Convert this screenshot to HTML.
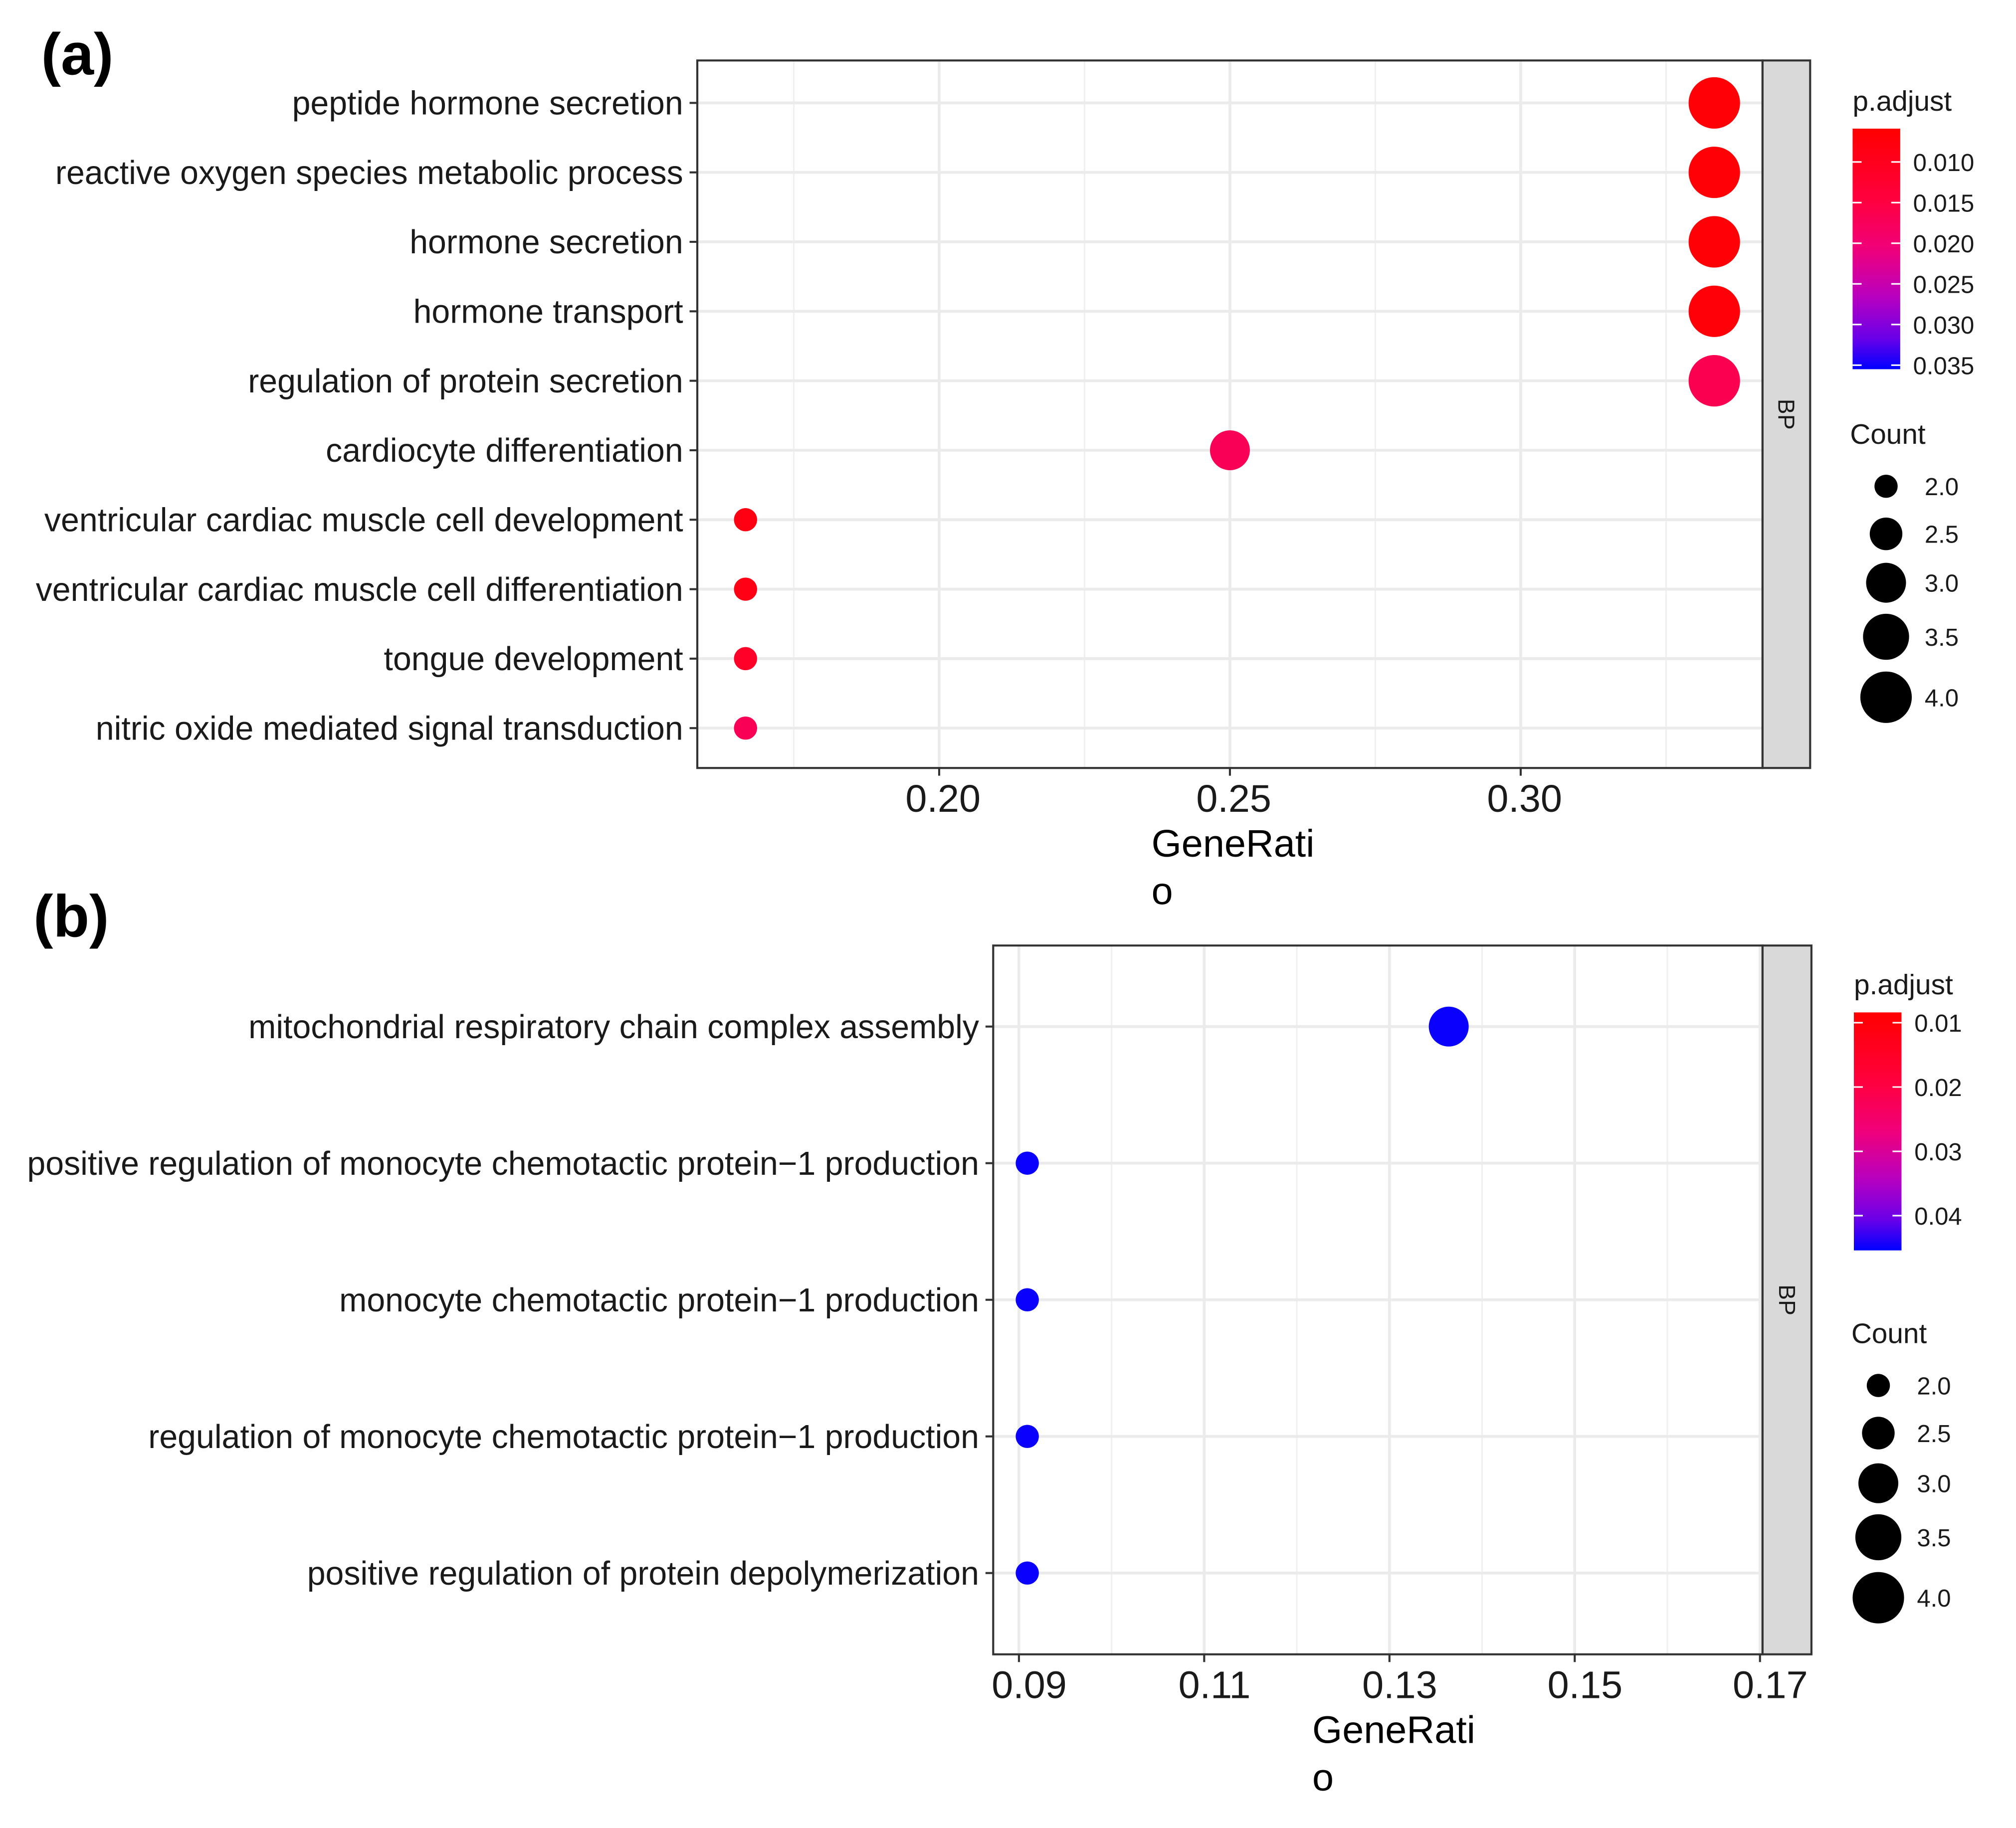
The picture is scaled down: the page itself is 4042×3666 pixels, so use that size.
<!DOCTYPE html>
<html><head><meta charset="utf-8">
<style>
html,body{margin:0;padding:0;background:#fff;}
svg{display:block;}
text{font-family:"Liberation Sans",Arial,sans-serif;}
</style></head>
<body>
<svg id="fig" width="4042" height="3666" viewBox="0 0 1567 1421" preserveAspectRatio="none" xmlns="http://www.w3.org/2000/svg">
<defs>
<linearGradient id="gradA" x1="0" y1="0" x2="0" y2="1">
<stop offset="0" stop-color="#ff0000"/><stop offset="0.3" stop-color="#ff0040"/><stop offset="0.5" stop-color="#f0007a"/><stop offset="0.7" stop-color="#b800c0"/><stop offset="0.87" stop-color="#6a00e8"/><stop offset="1" stop-color="#0000ff"/>
</linearGradient>
</defs>
<g id="root"></g>
</svg>
<script>
// ---------- Panel (a) data ----------
const catsA = ["peptide hormone secretion","reactive oxygen species metabolic process","hormone secretion","hormone transport","regulation of protein secretion","cardiocyte differentiation","ventricular cardiac muscle cell development","ventricular cardiac muscle cell differentiation","tongue development","nitric oxide mediated signal transduction"];
const ratioA = [0.3333,0.3333,0.3333,0.3333,0.3333,0.25,0.1667,0.1667,0.1667,0.1667];
const padjA = [0.0068,0.0068,0.0068,0.0070,0.0165,0.0170,0.0085,0.0088,0.0115,0.0170];
const countA = [4,4,4,4,4,3,2,2,2,2];
const ticksA = [0.20,0.25,0.30];
const tickLabelsA = ["0.20","0.25","0.30"];
const cbTicksA = [0.010,0.015,0.020,0.025,0.030,0.035];
const cbLabelsA = ["0.010","0.015","0.020","0.025","0.030","0.035"];
// ---------- Panel (b) data ----------
const catsB = ["mitochondrial respiratory chain complex assembly","positive regulation of monocyte chemotactic protein\u22121 production","monocyte chemotactic protein\u22121 production","regulation of monocyte chemotactic protein\u22121 production","positive regulation of protein depolymerization"];
const ratioB = [0.1364,0.0909,0.0909,0.0909,0.0909];
const padjB = [0.0450,0.0450,0.0450,0.0450,0.0450];
const countB = [3,2,2,2,2];
const ticksB = [0.09,0.11,0.13,0.15,0.17];
const tickLabelsB = ["0.09","0.11","0.13","0.15","0.17"];
const cbTicksB = [0.01,0.02,0.03,0.04];
const cbLabelsB = ["0.01","0.02","0.03","0.04"];
const sizeLegend = [2.0,2.5,3.0,3.5,4.0];
const sizeLegendLabels = ["2.0","2.5","3.0","3.5","4.0"];

const NS="http://www.w3.org/2000/svg";
const root=document.getElementById('root');
function el(tag,attrs,parent){const e=document.createElementNS(NS,tag);for(const k in attrs)e.setAttribute(k,attrs[k]);(parent||root).appendChild(e);return e;}
function txt(s,attrs,parent){const e=el('text',attrs,parent);e.textContent=s;return e;}
const stops=[[0,[255,0,0]],[0.3,[255,0,64]],[0.5,[240,0,122]],[0.7,[184,0,192]],[0.87,[106,0,232]],[1,[0,0,255]]];
function colorAt(t){t=Math.max(0,Math.min(1,t));for(let i=1;i<stops.length;i++){if(t<=stops[i][0]){const a=stops[i-1],b=stops[i];const f=(t-a[0])/(b[0]-a[0]);const c=a[1].map((v,j)=>Math.round(v+(b[1][j]-v)*f));return `rgb(${c[0]},${c[1]},${c[2]})`;}}return 'rgb(0,0,255)';}
function radius(c){return Math.sqrt(81+159.5*(c-2));}
const labelEls=[];

function panel(cfg){
  const g=el('g',{});
  
  
  const {L,R,T,B,x0,xv0,pxPer}=cfg;
  const xs=v=>x0+(v-xv0)*pxPer;
  const n=cfg.cats.length;
  const ys=i=>cfg.yTop+i*cfg.yStep;
  const minor=el('g',{},g);
  for(let i=0;i<cfg.ticks.length+1;i++){const v=cfg.ticks[0]+(i-0.5)*(cfg.ticks[1]-cfg.ticks[0]);const x=xs(v);if(x>L&&x<R)el('line',{x1:x,x2:x,y1:T,y2:B,stroke:'#f0f0f0','stroke-width':1.2},minor);}
  const major=el('g',{},g);
  cfg.ticks.forEach(v=>{const x=xs(v);if(x>L&&x<R)el('line',{x1:x,x2:x,y1:T,y2:B,stroke:'#ebebeb','stroke-width':2.2},major);});
  for(let i=0;i<n;i++)el('line',{x1:L,x2:R,y1:ys(i),y2:ys(i),stroke:'#ebebeb','stroke-width':2.2},major);
  const dots=el('g',{},g);
  for(let i=0;i<n;i++){
    const c=el('circle',{cx:xs(cfg.ratio[i]),cy:ys(i),r:radius(cfg.count[i]),fill:colorAt((cfg.padj[i]-cfg.cbMin)/(cfg.cbMax-cfg.cbMin))},dots);
    
    
  }
  const bx=el('rect',{x:L,y:T,width:R-L,height:B-T,fill:'none',stroke:'#333','stroke-width':1.6},g);
  
  const st=el('rect',{x:R,y:T,width:cfg.stripW,height:B-T,fill:'#d9d9d9',stroke:'#333','stroke-width':1.6},g);
  
  const cy=(T+B)/2,cx=R+cfg.stripW/2;
  const bp=txt('BP',{x:cx,y:cy,'font-size':18,fill:'#1a1a1a','text-anchor':'middle','dominant-baseline':'central',transform:`rotate(90 ${cx} ${cy})`},g);
  
  for(let i=0;i<n;i++){
    el('line',{x1:L-6,x2:L,y1:ys(i),y2:ys(i),stroke:'#333','stroke-width':1.6},g);
    const t=txt(cfg.cats[i],{x:L-11,y:ys(i)+9,'font-size':26,fill:'#1a1a1a','text-anchor':'end'},g);
    
    labelEls.push(t);
  }
  cfg.ticks.forEach((v,i)=>{const x=xs(v);el('line',{x1:x,x2:x,y1:B,y2:B+6,stroke:'#333','stroke-width':1.6},g);
    const t=txt(cfg.tickLabels[i],{x:x+cfg.tickDx,y:B+34,'font-size':30,fill:'#1a1a1a','text-anchor':'middle'},g);
    });
  const xt=txt('GeneRati',{x:cfg.titleX,y:B+69,'font-size':30,fill:'#000'},g);
  
  const xt2=txt('o',{x:cfg.titleX,y:B+106,'font-size':30,fill:'#000'},g);
  
  const tag=txt(cfg.tag,{x:cfg.tagX,y:cfg.tagY,'font-size':46,'font-weight':'bold',fill:'#000'},g);
  
  const lg=el('g',{},g);
  txt('p.adjust',{x:cfg.lgX,y:cfg.lgTitleY,'font-size':22,fill:'#1a1a1a'},lg);
  el('rect',{x:cfg.lgX,y:cfg.cbTop,width:37,height:cfg.cbBot-cfg.cbTop,fill:'url(#gradA)'},lg);
  const cbY=v=>cfg.cbTop+(v-cfg.cbMin)/(cfg.cbMax-cfg.cbMin)*(cfg.cbBot-cfg.cbTop);
  cfg.cbTicks.forEach((v,i)=>{const y=cbY(v);
    el('line',{x1:cfg.lgX,x2:cfg.lgX+7,y1:y,y2:y,stroke:'#fff','stroke-width':1.2},lg);
    el('line',{x1:cfg.lgX+30,x2:cfg.lgX+37,y1:y,y2:y,stroke:'#fff','stroke-width':1.2},lg);
    txt(cfg.cbLabels[i],{x:cfg.lgX+47,y:y+7,'font-size':19,fill:'#1a1a1a'},lg);});
  const sl=el('g',{},g);
  txt('Count',{x:cfg.lgX-2,y:cfg.countTitleY,'font-size':22,fill:'#1a1a1a'},sl);
  sizeLegend.forEach((c,i)=>{const y=cfg.sizeYs[i];
    const k=el('circle',{cx:cfg.sizeX,cy:y,r:radius(c),fill:'#000'},sl);
    
    txt(sizeLegendLabels[i],{x:cfg.sizeX+30,y:y+7,'font-size':19,fill:'#1a1a1a'},sl);});
}

panel({name:'panel-a',tag:'(a)',tagX:32,tagY:58,L:542,R:1370,T:47,B:597,stripW:37,
  x0:730,xv0:0.20,pxPer:226/0.05,yTop:80,yStep:54,
  cats:catsA,ratio:ratioA,padj:padjA,count:countA,ticks:ticksA,tickLabels:tickLabelsA,tickDx:3,titleX:895,
  lgX:1440,lgTitleY:86,cbTop:100,cbBot:287,cbMin:0.0059,cbMax:0.0355,cbTicks:cbTicksA,cbLabels:cbLabelsA,
  countTitleY:345,sizeX:1466,sizeYs:[378,415,453,495,542]});
panel({name:'panel-b',tag:'(b)',tagX:26,tagY:728,L:772,R:1370,T:735,B:1286,stripW:38,
  x0:792,xv0:0.09,pxPer:72/0.01,yTop:798,yStep:106.2,
  cats:catsB,ratio:ratioB,padj:padjB,count:countB,ticks:ticksB,tickLabels:tickLabelsB,tickDx:8,titleX:1020,
  lgX:1441,lgTitleY:773,cbTop:787,cbBot:972,cbMin:0.0084,cbMax:0.0454,cbTicks:cbTicksB,cbLabels:cbLabelsB,
  countTitleY:1044,sizeX:1460,sizeYs:[1077,1114,1153,1195,1242]});

const ref=labelEls[1];const nat=ref.getComputedTextLength();const k=488/nat;
labelEls.forEach(t=>{const w=t.getComputedTextLength();t.setAttribute('textLength',w*k);t.setAttribute('lengthAdjust','spacingAndGlyphs');});
</script>
</body></html>
